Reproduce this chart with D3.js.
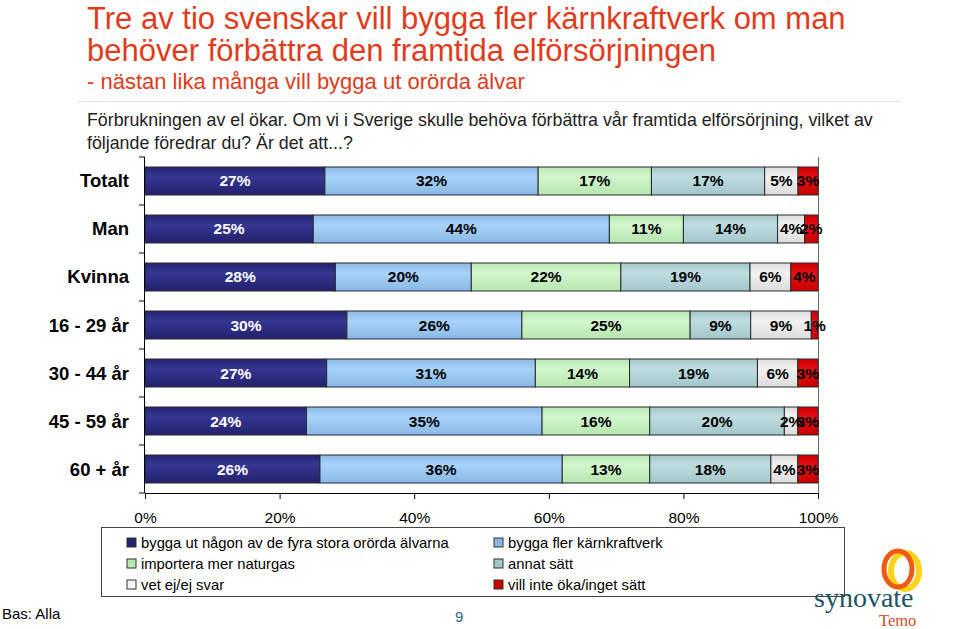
<!DOCTYPE html>
<html><head><meta charset="utf-8">
<script src="https://cdn.jsdelivr.net/npm/d3@7"></script>
<style>body{margin:0;background:#fff;}svg{display:block;font-family:"Liberation Sans",Arial,sans-serif;}</style>
</head><body><svg id="c" width="960" height="629"></svg>
<script>
const categories = ["Totalt","Man","Kvinna","16 - 29 år","30 - 44 år","45 - 59 år","60 + år"];
const seriesNames = ["bygga ut någon av de fyra stora orörda älvarna","bygga fler kärnkraftverk","importera mer naturgas","annat sätt","vet ej/ej svar","vill inte öka/inget sätt"];
const s1 = [27,25,28,30,27,24,26];
const s2 = [32,44,20,26,31,35,36];
const s3 = [17,11,22,25,14,16,13];
const s4 = [17,14,19,9,19,20,18];
const s5 = [5,4,6,9,6,2,4];
const s6 = [3,2,4,1,3,3,3];
const tickValues = [0,0.2,0.4,0.6,0.8,1];
const colorsTop = ["#363694","#a8d2f8","#d2f5cc","#bfdde0","#f2f2f2","#e81010"];
const colorsBot = ["#22226e","#88b8e6","#b6e6ae","#a2c6ca","#dcdcdc","#c80000"];
const labelColors = ["#fff","#000","#000","#000","#000","#000"];

const svg = d3.select("#c");
const allSeries = [s1,s2,s3,s4,s5,s6];

// Titles
svg.append("text").attr("x",87).attr("y",29).attr("fill","#e23b1c").attr("font-size",31).text("Tre av tio svenskar vill bygga fler kärnkraftverk om man");
svg.append("text").attr("x",87).attr("y",61).attr("fill","#e23b1c").attr("font-size",31).text("behöver förbättra den framtida elförsörjningen");
svg.append("text").attr("x",87).attr("y",89).attr("fill","#e23b1c").attr("font-size",22).text("- nästan lika många vill bygga ut orörda älvar");
svg.append("line").attr("x1",78).attr("x2",900).attr("y1",101.5).attr("y2",101.5).attr("stroke","#e4e4e4").attr("stroke-width",1);
svg.append("text").attr("x",87).attr("y",126).attr("fill","#222").attr("font-size",17.8).text("Förbrukningen av el ökar. Om vi i Sverige skulle behöva förbättra vår framtida elförsörjning, vilket av");
svg.append("text").attr("x",87).attr("y",149).attr("fill","#222").attr("font-size",17.8).text("följande föredrar du? Är det att...?");

// gradients
const defs = svg.append("defs");
colorsTop.forEach((c,i)=>{
  const g = defs.append("linearGradient").attr("id","g"+i).attr("x1",0).attr("y1",0).attr("x2",0).attr("y2",1);
  g.append("stop").attr("offset","0%").attr("stop-color",colorsBot[i]);
  g.append("stop").attr("offset","35%").attr("stop-color",c);
  g.append("stop").attr("offset","100%").attr("stop-color",colorsBot[i]);
});

const x0 = 145, x1 = 818, yTop = 157, yBot = 493;
const x = d3.scaleLinear().domain([0,1]).range([x0,x1]);
const y = d3.scaleBand().domain(categories).range([yTop,yBot]).paddingInner(0.4167).paddingOuter(0.2083);

// stacked normalized data
const rows = categories.map((c,i)=>{
  const vals = allSeries.map(s=>s[i]);
  const tot = d3.sum(vals);
  let acc = 0;
  return vals.map((v,j)=>{const st=acc/tot; acc+=v; return {cat:c,j,v,x0:st,x1:acc/tot};});
});

// right line
svg.append("line").attr("x1",x1+0.5).attr("x2",x1+0.5).attr("y1",yTop).attr("y2",yBot).attr("stroke","#666");

const g = svg.append("g");
rows.forEach(r=>{
  r.forEach(d=>{
    g.append("rect").attr("x",x(d.x0)).attr("y",y(d.cat)).attr("width",x(d.x1)-x(d.x0)).attr("height",y.bandwidth())
      .attr("fill","url(#g"+d.j+")").attr("stroke","#2a2a2a").attr("stroke-width",1);
  });
});
rows.forEach(r=>{
  r.forEach(d=>{
    g.append("text").attr("x",(x(d.x0)+x(d.x1))/2).attr("y",y(d.cat)+y.bandwidth()/2+5.5)
      .attr("text-anchor","middle").attr("font-size",15.5).attr("font-weight","bold")
      .attr("fill",labelColors[d.j]).text(d.v+"%");
  });
});

// left axis
const la = svg.append("g");
la.append("line").attr("x1",x0-0.5).attr("x2",x0-0.5).attr("y1",yTop).attr("y2",yBot).attr("stroke","#000");
const step = y.step();
for(let i=0;i<=categories.length;i++){
  const yy = yTop + i*step;
  la.append("line").attr("x1",x0-6).attr("x2",x0).attr("y1",yy).attr("y2",yy).attr("stroke","#000");
}
categories.forEach(c=>{
  la.append("text").attr("x",129).attr("y",y(c)+y.bandwidth()/2+6.5).attr("text-anchor","end")
    .attr("font-size",18.5).attr("font-weight","bold").attr("fill","#000").text(c);
});

// bottom axis
const bax = svg.append("g").attr("transform",`translate(0,${yBot})`)
  .call(d3.axisBottom(x).tickValues(tickValues).tickFormat(d=>Math.round(d*100)+"%").tickSize(6).tickPadding(13));
bax.select(".domain").attr("stroke","#000");
bax.selectAll(".tick line").attr("stroke","#000");
bax.selectAll("text").attr("font-size",15.5).attr("fill","#000").attr("font-family","Liberation Sans, Arial, sans-serif");

// legend
svg.append("rect").attr("x",101.5).attr("y",527.5).attr("width",743).attr("height",69).attr("fill","none").attr("stroke","#444").attr("stroke-width",1);
const legPos = [[127,543],[494,543],[127,564],[494,564],[127,585],[494,585]];
seriesNames.forEach((n,i)=>{
  const [lx,ly] = legPos[i];
  svg.append("rect").attr("x",lx).attr("y",ly-5).attr("width",9).attr("height",9).attr("fill",i===4?"#f4f4f4":colorsBot[i]).attr("stroke","#333");
  svg.append("text").attr("x",lx+14).attr("y",ly+5).attr("font-size",14.8).attr("fill","#000").text(n);
});

// footer
svg.append("text").attr("x",2).attr("y",619).attr("font-size",15).attr("fill","#000").text("Bas: Alla");
svg.append("text").attr("x",455).attr("y",622).attr("font-size",15).attr("fill","#1f6b7b").text("9");

// logo
const lg = svg.append("g");
lg.append("ellipse").attr("cx",905).attr("cy",571).attr("rx",14).attr("ry",18).attr("fill","none").attr("stroke","#ffd21a").attr("stroke-width",6);
lg.append("ellipse").attr("cx",898).attr("cy",569).attr("rx",14).attr("ry",18).attr("fill","none").attr("stroke","#ee5a10").attr("stroke-width",5);
lg.append("text").attr("x",814).attr("y",607).attr("font-family","Liberation Serif, serif").attr("font-size",28).attr("fill","#1d5464").text("synovate");
lg.append("text").attr("x",879).attr("y",626).attr("font-family","Liberation Serif, serif").attr("font-size",16.5).attr("fill","#d0502a").text("Temo");
</script></body></html>
